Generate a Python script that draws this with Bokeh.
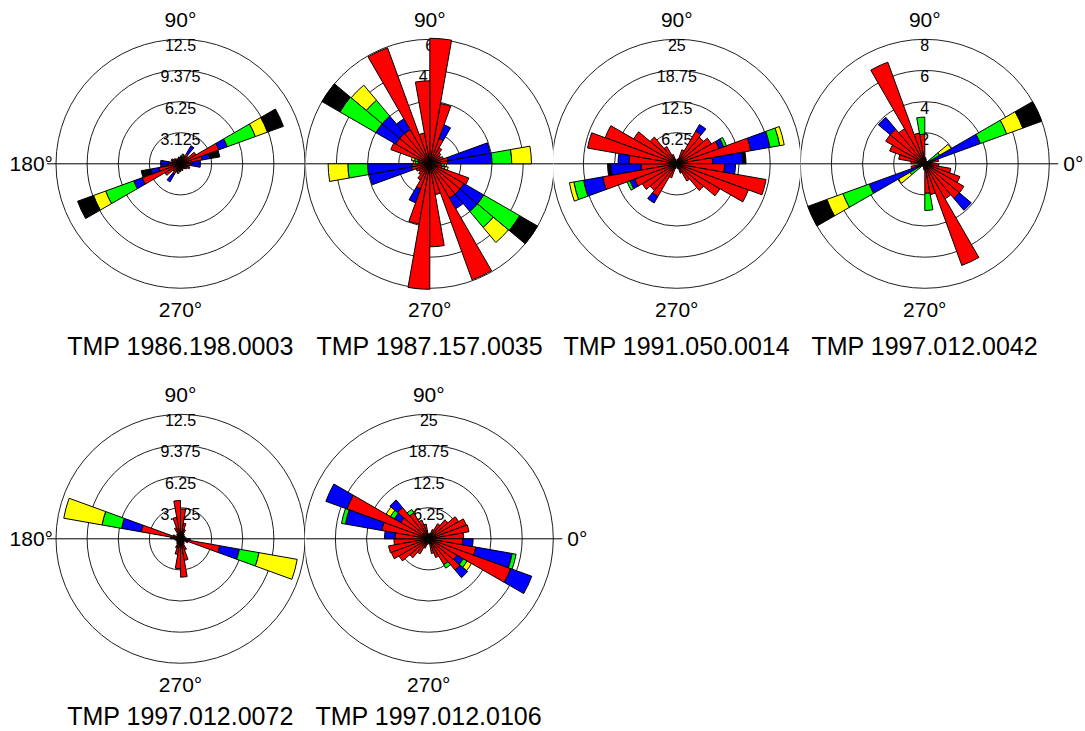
from bokeh.plotting import figure
from bokeh.layouts import row, column
from bokeh.models import Range1d, ColumnDataSource
from bokeh.core.properties import value
from bokeh.embed import file_html
from bokeh.resources import INLINE
import math

# ---------------- data ----------------
BIN_START_DEG = list(range(0, 180, 10))   # axial data: each bin is mirrored at +180
BIN_WIDTH_DEG = 10
CLASS_COLORS = ["#ff0000", "#0000ff", "#00ff00", "#ffff00", "#000000"]

TITLES = ["TMP 1986.198.0003", "TMP 1987.157.0035", "TMP 1991.050.0014",
          "TMP 1997.012.0042", "TMP 1997.012.0072", "TMP 1997.012.0106"]

RINGS_1 = [3.125, 6.25, 9.375, 12.5]
RINGS_2 = [1.5, 3, 4.5, 6]
RINGS_3 = [6.25, 12.5, 18.75, 25]
RINGS_4 = [2, 4, 6, 8]
RINGS_5 = [3.125, 6.25, 9.375, 12.5]
RINGS_6 = [6.25, 12.5, 18.75, 25]

RING_LABELS_1 = ["3.125", "6.25", "9.375", "12.5"]
RING_LABELS_2 = ["1.5", "3", "4.5", "6"]
RING_LABELS_3 = ["6.25", "12.5", "18.75", "25"]
RING_LABELS_4 = ["2", "4", "6", "8"]
RING_LABELS_5 = ["3.125", "6.25", "9.375", "12.5"]
RING_LABELS_6 = ["6.25", "12.5", "18.75", "25"]

# panel 1
P1_RED    = [1.2, 2.2, 4.1, 1.8, 1.0, 1.2, 0.9, 0.7, 0.8, 0.6, 0.7, 0.5, 0.6, 0.7, 0.8, 1.0, 0.9, 1.0]
P1_BLUE   = [0.8, 0.8, 0.9, 0, 0, 0.9, 0, 0, 0, 0, 0, 0, 0, 0, 0, 0, 0, 1.0]
P1_GREEN  = [0, 0, 3.0, 0, 0, 0, 0, 0.3, 0, 0, 0, 0, 0, 0, 0, 0, 0, 0]
P1_YELLOW = [0, 0, 1.3, 0, 0, 0, 0, 0, 0, 0, 0, 0, 0, 0, 0, 0, 0, 0]
P1_BLACK  = [0, 1.0, 1.7, 0, 0, 0, 0, 0, 0, 0, 0, 0, 0, 0, 0, 0, 0, 0]

# panel 2
P2_RED    = [0.85, 0.9, 0.7, 0.6, 0.7, 0.9, 1.3, 2.95, 6.05, 4.0, 1.5, 5.95, 1.9, 1.9, 1.9, 2.0, 0.6, 0.55]
P2_BLUE   = [2.15, 2.05, 0, 0, 0, 0, 0.7, 0, 0, 0, 0, 0, 0.6, 1.1, 1.1, 0, 0, 0]
P2_GREEN  = [0.95, 0, 0, 0, 0, 0, 0, 0, 0, 0, 0, 0, 0, 1.0, 2.0, 0, 0.15, 0.15]
P2_YELLOW = [0.95, 0, 0, 0, 0, 0, 0, 0, 0, 0, 0, 0, 0, 0.95, 0, 0, 0.15, 0.1]
P2_BLACK  = [0, 0, 0, 0, 0, 0, 0, 0, 0, 0, 0, 0, 0, 0, 1.0, 0, 0, 0]

# panel 3
P3_RED    = [7.2, 15.1, 9.0, 8.0, 7.0, 7.6, 3.0, 1.0, 0.5, 0.5, 1.0, 2.0, 4.0, 7.0, 10.0, 15.3, 18.2, 9.6]
P3_BLUE   = [6.1, 3.9, 1.0, 0, 0, 1.5, 0, 0, 0, 0, 0, 0, 0, 0, 0, 0, 0, 2.2]
P3_GREEN  = [0, 2.0, 0.6, 0, 0, 0, 0, 0, 0, 0, 0, 0, 0, 0, 0, 0, 0, 0]
P3_YELLOW = [0, 0.9, 0, 0, 0, 0, 0, 0, 0, 0, 0, 0, 0, 0, 0, 0, 0, 0]
P3_BLACK  = [0.6, 0, 0, 0, 0, 0, 0, 0, 0, 0, 0, 0, 0, 0, 0, 0, 0, 0]

# panel 4
P4_RED    = [0.4, 0.9, 0.3, 0.15, 0.2, 0.2, 0.2, 0.3, 0.4, 1.9, 2.0, 6.95, 2.6, 2.9, 2.9, 2.4, 1.7, 0.9]
P4_BLUE   = [0, 0, 3.5, 0, 0, 0, 0, 0, 0, 0, 0, 0, 0, 1.0, 0, 0, 0, 0]
P4_GREEN  = [0, 0, 1.8, 0.95, 0, 0, 0, 0, 0, 1.1, 0, 0, 0, 0, 0, 0, 0, 0]
P4_YELLOW = [0, 0, 1.1, 0.85, 0, 0, 0, 0, 0, 0, 0, 0, 0, 0, 0, 0, 0, 0]
P4_BLACK  = [0, 0, 1.3, 0, 0, 0, 0, 0, 0, 0, 0, 0, 0, 0, 0, 0, 0, 0]

# panel 5
P5_RED    = [0.6, 0.4, 0.5, 0.4, 0.5, 0.6, 1.0, 1.6, 3.0, 3.85, 2.2, 1.2, 0.6, 0.5, 0.4, 0.8, 4.0, 0.7]
P5_BLUE   = [0, 0, 0, 0, 0, 0, 0, 0, 0, 0, 0, 0, 0, 0, 0, 0, 2.0, 0.3]
P5_GREEN  = [0, 0, 0, 0, 0, 0, 0, 0, 0, 0, 0, 0, 0, 0, 0, 0, 2.0, 0]
P5_YELLOW = [0, 0, 0, 0, 0, 0, 0, 0, 0, 0, 0, 0, 0, 0, 0, 0, 3.9, 0]
P5_BLACK  = [0] * 18

# panel 6
P6_RED    = [7.0, 8.2, 8.0, 6.9, 5.0, 3.5, 2.0, 1.2, 0.8, 1.0, 3.0, 4.0, 6.0, 8.2, 6.5, 17.5, 9.6, 6.8]
P6_BLUE   = [0, 0, 0, 0, 0, 0, 0, 0, 0, 0, 0, 0, 0, 2.0, 1.5, 4.5, 7.4, 2.1]
P6_GREEN  = [0, 0, 0, 0, 0, 0, 0, 0, 0, 0, 0, 0, 0.8, 0, 0.9, 0, 0.8, 0]
P6_YELLOW = [0, 0, 0, 0, 0, 0, 0, 0, 0, 0, 0, 0, 0, 0, 1.0, 0, 0, 0]
P6_BLACK  = [0] * 18

FONT = value("Liberation Sans")
R_PX = 124.5  # pixel radius of the outer ring


def make_panel(rmax, rings, ring_labels, classes, title, width, height, cx, cy,
               left_label, right_label, title_drop):
    ppu = R_PX / rmax
    p = figure(width=width, height=height, output_backend="svg", toolbar_location=None,
               x_range=Range1d(-cx / ppu, (width - cx) / ppu),
               y_range=Range1d(-(height - cy) / ppu, cy / ppu),
               min_border=0, outline_line_color=None, background_fill_color="white",
               border_fill_color="white")
    p.axis.visible = False
    p.grid.visible = False

    # rings
    p.circle(x=[0] * len(rings), y=[0] * len(rings), radius=rings, fill_color=None,
             line_color="#202020", line_width=1)
    # horizontal axis
    ext = rmax + 9 / ppu
    p.line(x=[-ext, ext], y=[0, 0], line_color="black", line_width=1)

    # ring labels
    p.text(x=[0] * len(rings), y=rings, text=ring_labels, text_align="center",
           text_baseline="top", text_font=FONT, text_font_size="16px", text_color="black")

    # stacked wedges
    inner, outer, start, end, color = [], [], [], [], []
    for i, a in enumerate(BIN_START_DEG):
        for mirror in (0, 180):
            base = 0.0
            for c, series in enumerate(classes):
                v = series[i]
                if v > 0:
                    inner.append(base)
                    outer.append(base + v)
                    start.append(math.radians(a + mirror))
                    end.append(math.radians(a + mirror + BIN_WIDTH_DEG))
                    color.append(CLASS_COLORS[c])
                    base += v
    src = ColumnDataSource(dict(inner=inner, outer=outer, start=start, end=end, color=color))
    p.annular_wedge(x=0, y=0, inner_radius="inner", outer_radius="outer",
                    start_angle="start", end_angle="end", fill_color="color",
                    line_color="black", line_width=1, source=src)

    # angle labels
    p.text(x=[0], y=[rmax + 19.5 / ppu], text=["90°"], text_align="center",
           text_baseline="middle", text_font=FONT, text_font_size="21px")
    p.text(x=[0], y=[-(rmax + 21 / ppu)], text=["270°"], text_align="center",
           text_baseline="middle", text_font=FONT, text_font_size="21px")
    if left_label:
        p.text(x=[-(rmax + 3 / ppu)], y=[0], text=["180°"], text_align="right",
               text_baseline="middle", text_font=FONT, text_font_size="21px")
    if right_label:
        p.text(x=[rmax + 14 / ppu], y=[0], text=["0°"], text_align="left",
               text_baseline="middle", text_font=FONT, text_font_size="21px")
    # title
    p.text(x=[0], y=[-title_drop / ppu], text=[title], text_align="center",
           text_baseline="middle", text_font=FONT, text_font_size="25px")
    return p


H1, H2 = 375, 356
CY1, CY2 = 163.3, 163.3

p1 = make_panel(12.5, RINGS_1, RING_LABELS_1, [P1_RED, P1_BLUE, P1_GREEN, P1_YELLOW, P1_BLACK],
                TITLES[0], 305, H1, 180.0, CY1, True, False, 182)
p2 = make_panel(6, RINGS_2, RING_LABELS_2, [P2_RED, P2_BLUE, P2_GREEN, P2_YELLOW, P2_BLACK],
                TITLES[1], 248, H1, 124.3, CY1, False, False, 182)
p3 = make_panel(25, RINGS_3, RING_LABELS_3, [P3_RED, P3_BLUE, P3_GREEN, P3_YELLOW, P3_BLACK],
                TITLES[2], 247, H1, 123.3, CY1, False, False, 182)
p4 = make_panel(8, RINGS_4, RING_LABELS_4, [P4_RED, P4_BLUE, P4_GREEN, P4_YELLOW, P4_BLACK],
                TITLES[3], 284, H1, 124.3, CY1, False, True, 182)
p5 = make_panel(12.5, RINGS_5, RING_LABELS_5, [P5_RED, P5_BLUE, P5_GREEN, P5_YELLOW, P5_BLACK],
                TITLES[4], 305, H2, 180.0, CY2, True, False, 177)
p6 = make_panel(25, RINGS_6, RING_LABELS_6, [P6_RED, P6_BLUE, P6_GREEN, P6_YELLOW, P6_BLACK],
                TITLES[5], 295, H2, 123.3, CY2, False, True, 177)

layout = column(row(p1, p2, p3, p4, spacing=0), row(p5, p6, spacing=0), spacing=0)
open("out.html", "w").write(file_html(layout, INLINE))
